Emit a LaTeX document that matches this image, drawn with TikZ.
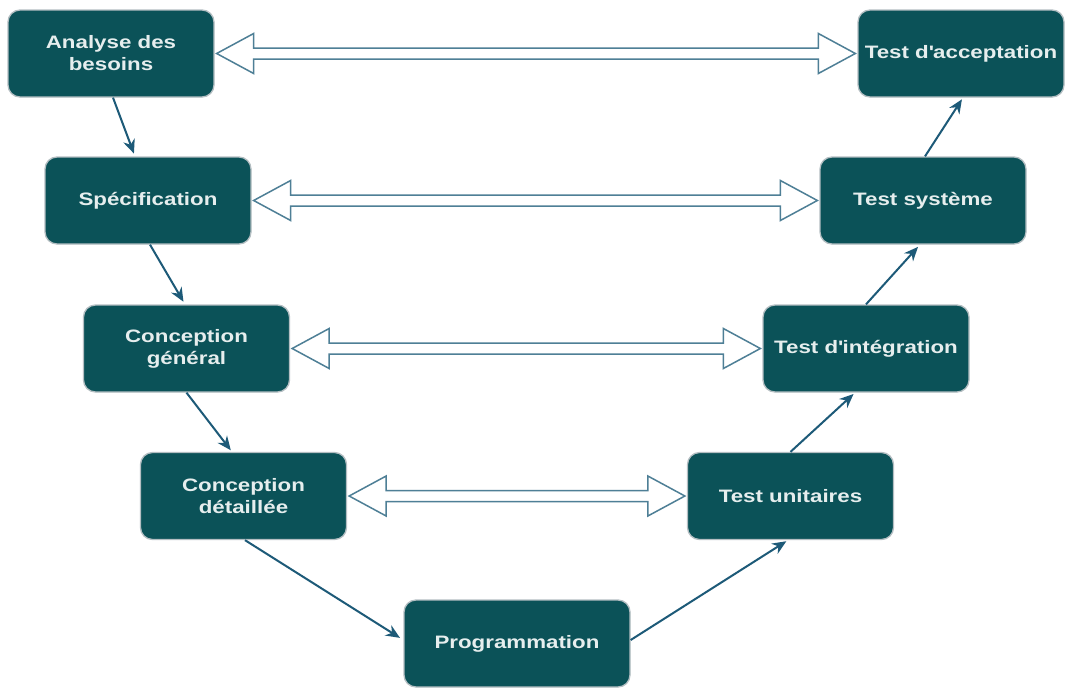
\documentclass[tikz,border=0pt]{standalone}
\usepackage{fontspec}
\setmainfont{Liberation Sans}[FakeStretch=1.24]
\usetikzlibrary{arrows.meta,calc}
\definecolor{boxfill}{HTML}{0B5258}
\definecolor{boxline}{HTML}{B4BEC2}
\definecolor{boxtext}{HTML}{E6EEEE}
\definecolor{flow}{HTML}{1D5A78}
\definecolor{hollowline}{HTML}{4E7F96}
\tikzset{
  phase/.style={draw=boxline, line width=1.3pt, fill=boxfill, rounded corners=12pt,
    minimum width=206pt, minimum height=87pt, inner sep=2pt, align=center,
    text=boxtext, font=\fontsize{18}{22}\selectfont\bfseries},
  flowarrow/.style={draw=flow, line width=2pt, -{Stealth[length=14pt,width=12pt]}},
  hollow/.style={draw=hollowline, line width=1.5pt, fill=white, line join=miter}
}
% hollow two-headed block arrow between the east side of #1 and the west side of #2
\newcommand\pairarrow[2]{%
  \draw[hollow] let \p1=(#1.east), \p2=(#2.west) in
    (\x1+2pt,\y1) -- (\x1+39pt,\y1+20pt) -- (\x1+39pt,\y1+5.5pt)
    -- (\x2-39pt,\y1+5.5pt) -- (\x2-39pt,\y1+20pt) -- (\x2-2pt,\y1)
    -- (\x2-39pt,\y1-20pt) -- (\x2-39pt,\y1-5.5pt)
    -- (\x1+39pt,\y1-5.5pt) -- (\x1+39pt,\y1-20pt) -- cycle;}
\begin{document}
\begin{tikzpicture}[x=1pt,y=-1pt]
\useasboundingbox[fill=white] (0,0) rectangle (1067,688);

\node[phase] (besoins)   at (111,53.5)   {Analyse des\\besoins};
\node[phase] (accept)    at (961,53.5)   {Test d\textquotesingle acceptation};
\node[phase] (spec)      at (148,200.5)  {Spécification};
\node[phase] (systeme)   at (923,200.5)  {Test système};
\node[phase] (cgeneral)  at (186.5,348.5){Conception\\général};
\node[phase] (integ)     at (866,348.5)  {Test d\textquotesingle intégration};
\node[phase] (cdetail)   at (243.5,496)  {Conception\\détaillée};
\node[phase] (unitaires) at (790.5,496)  {Test unitaires};
\node[phase, minimum width=226pt] (prog) at (517,643.5) {Programmation};

% descending branch
\draw[flowarrow, shorten >=3pt] ([xshift=2pt]besoins.south) -- ([xshift=-13pt]spec.north);
\draw[flowarrow, shorten >=3pt] ([xshift=2pt]spec.south) -- ([xshift=-1.5pt]cgeneral.north);
\draw[flowarrow, shorten >=2pt] (cgeneral.south) -- ([xshift=-11.5pt]cdetail.north);
\draw[flowarrow, shorten >=4pt] ([xshift=1.5pt]cdetail.south) -- ([yshift=3.5pt]prog.west);
% ascending branch
\draw[flowarrow, shorten >=2pt] ([yshift=3.5pt]prog.east) -- ([xshift=-2.5pt]unitaires.south);
\draw[flowarrow, shorten >=2pt] (unitaires.north) -- ([xshift=-11pt]integ.south);
\draw[flowarrow, shorten >=3pt] (integ.north) -- ([xshift=-3pt]systeme.south);
\draw[flowarrow, shorten >=2pt] ([xshift=2pt]systeme.north) -- ([xshift=2pt]accept.south);

% verification links between matching levels
\pairarrow{besoins}{accept}
\pairarrow{spec}{systeme}
\pairarrow{cgeneral}{integ}
\pairarrow{cdetail}{unitaires}
\end{tikzpicture}
\end{document}
